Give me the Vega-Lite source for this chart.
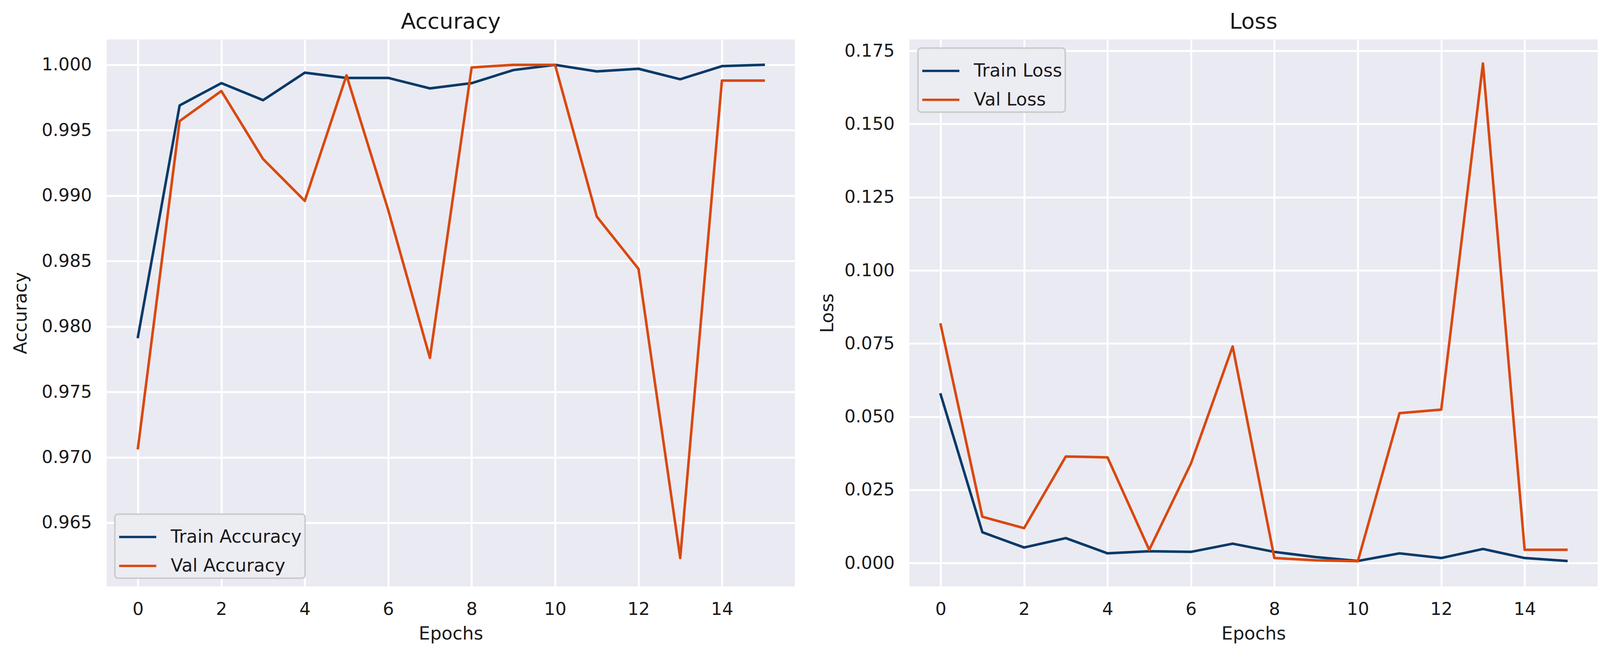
{
  "$schema": "https://vega.github.io/schema/vega-lite/v6.json",
  "background": "white",
  "padding": {"left": 30, "top": 28, "right": 5, "bottom": 5},
  "datasets": {
    "acc": [
      {"epoch": 0, "series": "Train Accuracy", "value": 0.9792},
      {"epoch": 1, "series": "Train Accuracy", "value": 0.9969},
      {"epoch": 2, "series": "Train Accuracy", "value": 0.9986},
      {"epoch": 3, "series": "Train Accuracy", "value": 0.9973},
      {"epoch": 4, "series": "Train Accuracy", "value": 0.9994},
      {"epoch": 5, "series": "Train Accuracy", "value": 0.9990},
      {"epoch": 6, "series": "Train Accuracy", "value": 0.9990},
      {"epoch": 7, "series": "Train Accuracy", "value": 0.9982},
      {"epoch": 8, "series": "Train Accuracy", "value": 0.9986},
      {"epoch": 9, "series": "Train Accuracy", "value": 0.9996},
      {"epoch": 10, "series": "Train Accuracy", "value": 1.0000},
      {"epoch": 11, "series": "Train Accuracy", "value": 0.9995},
      {"epoch": 12, "series": "Train Accuracy", "value": 0.9997},
      {"epoch": 13, "series": "Train Accuracy", "value": 0.9989},
      {"epoch": 14, "series": "Train Accuracy", "value": 0.9999},
      {"epoch": 15, "series": "Train Accuracy", "value": 1.0000},
      {"epoch": 0, "series": "Val Accuracy", "value": 0.9707},
      {"epoch": 1, "series": "Val Accuracy", "value": 0.9957},
      {"epoch": 2, "series": "Val Accuracy", "value": 0.9980},
      {"epoch": 3, "series": "Val Accuracy", "value": 0.9928},
      {"epoch": 4, "series": "Val Accuracy", "value": 0.9896},
      {"epoch": 5, "series": "Val Accuracy", "value": 0.9992},
      {"epoch": 6, "series": "Val Accuracy", "value": 0.9889},
      {"epoch": 7, "series": "Val Accuracy", "value": 0.9776},
      {"epoch": 8, "series": "Val Accuracy", "value": 0.9998},
      {"epoch": 9, "series": "Val Accuracy", "value": 1.0000},
      {"epoch": 10, "series": "Val Accuracy", "value": 1.0000},
      {"epoch": 11, "series": "Val Accuracy", "value": 0.9884},
      {"epoch": 12, "series": "Val Accuracy", "value": 0.9844},
      {"epoch": 13, "series": "Val Accuracy", "value": 0.9623},
      {"epoch": 14, "series": "Val Accuracy", "value": 0.9988},
      {"epoch": 15, "series": "Val Accuracy", "value": 0.9988}
    ],
    "loss": [
      {"epoch": 0, "series": "Train Loss", "value": 0.0576},
      {"epoch": 1, "series": "Train Loss", "value": 0.0105},
      {"epoch": 2, "series": "Train Loss", "value": 0.0053},
      {"epoch": 3, "series": "Train Loss", "value": 0.0085},
      {"epoch": 4, "series": "Train Loss", "value": 0.0033},
      {"epoch": 5, "series": "Train Loss", "value": 0.0040},
      {"epoch": 6, "series": "Train Loss", "value": 0.0038},
      {"epoch": 7, "series": "Train Loss", "value": 0.0066},
      {"epoch": 8, "series": "Train Loss", "value": 0.0038},
      {"epoch": 9, "series": "Train Loss", "value": 0.0020},
      {"epoch": 10, "series": "Train Loss", "value": 0.0007},
      {"epoch": 11, "series": "Train Loss", "value": 0.0033},
      {"epoch": 12, "series": "Train Loss", "value": 0.0017},
      {"epoch": 13, "series": "Train Loss", "value": 0.0048},
      {"epoch": 14, "series": "Train Loss", "value": 0.0017},
      {"epoch": 15, "series": "Train Loss", "value": 0.0007},
      {"epoch": 0, "series": "Val Loss", "value": 0.0815},
      {"epoch": 1, "series": "Val Loss", "value": 0.0158},
      {"epoch": 2, "series": "Val Loss", "value": 0.0119},
      {"epoch": 3, "series": "Val Loss", "value": 0.0364},
      {"epoch": 4, "series": "Val Loss", "value": 0.0361},
      {"epoch": 5, "series": "Val Loss", "value": 0.0045},
      {"epoch": 6, "series": "Val Loss", "value": 0.0340},
      {"epoch": 7, "series": "Val Loss", "value": 0.0740},
      {"epoch": 8, "series": "Val Loss", "value": 0.0017},
      {"epoch": 9, "series": "Val Loss", "value": 0.0009},
      {"epoch": 10, "series": "Val Loss", "value": 0.0006},
      {"epoch": 11, "series": "Val Loss", "value": 0.0512},
      {"epoch": 12, "series": "Val Loss", "value": 0.0524},
      {"epoch": 13, "series": "Val Loss", "value": 0.1707},
      {"epoch": 14, "series": "Val Loss", "value": 0.0045},
      {"epoch": 15, "series": "Val Loss", "value": 0.0045}
    ]
  },
  "spacing": 60,
  "hconcat": [
    {
      "width": 1762,
      "height": 1400,
      "title": "Accuracy",
      "data": {"name": "acc"},
      "mark": {"type": "line", "strokeWidth": 6.5, "strokeJoin": "round", "strokeCap": "square"},
      "encoding": {
        "x": {
          "field": "epoch", "type": "quantitative",
          "scale": {"domain": [-0.75, 15.75], "nice": false, "zero": false},
          "axis": {"values": [0, 2, 4, 6, 8, 10, 12, 14], "title": "Epochs", "labelPadding": 36, "titlePadding": 18}
        },
        "y": {
          "field": "value", "type": "quantitative",
          "scale": {"domain": [0.96013, 1.00194], "nice": false, "zero": false},
          "axis": {"values": [0.965, 0.97, 0.975, 0.98, 0.985, 0.99, 0.995, 1.0], "format": ".3f", "title": "Accuracy", "labelPadding": 38, "titlePadding": 26, "minExtent": 170, "maxExtent": 170}
        },
        "color": {
          "field": "series", "type": "nominal",
          "scale": {"domain": ["Train Accuracy", "Val Accuracy"], "range": ["#083a68", "#d9480f"]},
          "legend": {"orient": "bottom-left", "offset": 21, "title": null}
        }
      }
    },
    {
      "width": 1762,
      "height": 1400,
      "title": "Loss",
      "data": {"name": "loss"},
      "mark": {"type": "line", "strokeWidth": 6.5, "strokeJoin": "round", "strokeCap": "square"},
      "encoding": {
        "x": {
          "field": "epoch", "type": "quantitative",
          "scale": {"domain": [-0.75, 15.75], "nice": false, "zero": false},
          "axis": {"values": [0, 2, 4, 6, 8, 10, 12, 14], "title": "Epochs", "labelPadding": 36, "titlePadding": 18}
        },
        "y": {
          "field": "value", "type": "quantitative",
          "scale": {"domain": [-0.008, 0.1789], "nice": false, "zero": false},
          "axis": {"values": [0, 0.025, 0.05, 0.075, 0.1, 0.125, 0.15, 0.175], "format": ".3f", "title": "Loss", "labelPadding": 38, "titlePadding": 16, "minExtent": 170, "maxExtent": 170}
        },
        "color": {
          "field": "series", "type": "nominal",
          "scale": {"domain": ["Train Loss", "Val Loss"], "range": ["#083a68", "#d9480f"]},
          "legend": {"orient": "top-left", "offset": 22, "title": null}
        }
      }
    }
  ],
  "resolve": {"scale": {"color": "independent"}, "legend": {"color": "independent"}},
  "config": {
    "view": {"fill": "#eaeaf2", "stroke": null},
    "axis": {
      "domain": false, "ticks": false, "tickSize": 0, "grid": true,
      "gridColor": "#ffffff", "gridWidth": 5, "gridOpacity": 1,
      "labelFont": "DejaVu Sans", "labelFontSize": 45, "labelColor": "#1a1a1a",
      "titleFont": "DejaVu Sans", "titleFontSize": 46, "titleFontWeight": "normal", "titleColor": "#1a1a1a"
    },
    "title": {"font": "DejaVu Sans", "fontSize": 56, "fontWeight": "normal", "color": "#1a1a1a", "offset": 16},
    "legend": {
      "labelFont": "DejaVu Sans", "labelFontSize": 46, "labelColor": "#1a1a1a", "labelLimit": 700,
      "symbolType": "stroke", "symbolSize": 9025, "symbolStrokeWidth": 6, "labelOffset": 34,
      "padding": 8, "rowPadding": 0, "fillColor": "#ececf3", "strokeColor": "#cccccc", "strokeWidth": 4, "cornerRadius": 8
    }
  }
}
